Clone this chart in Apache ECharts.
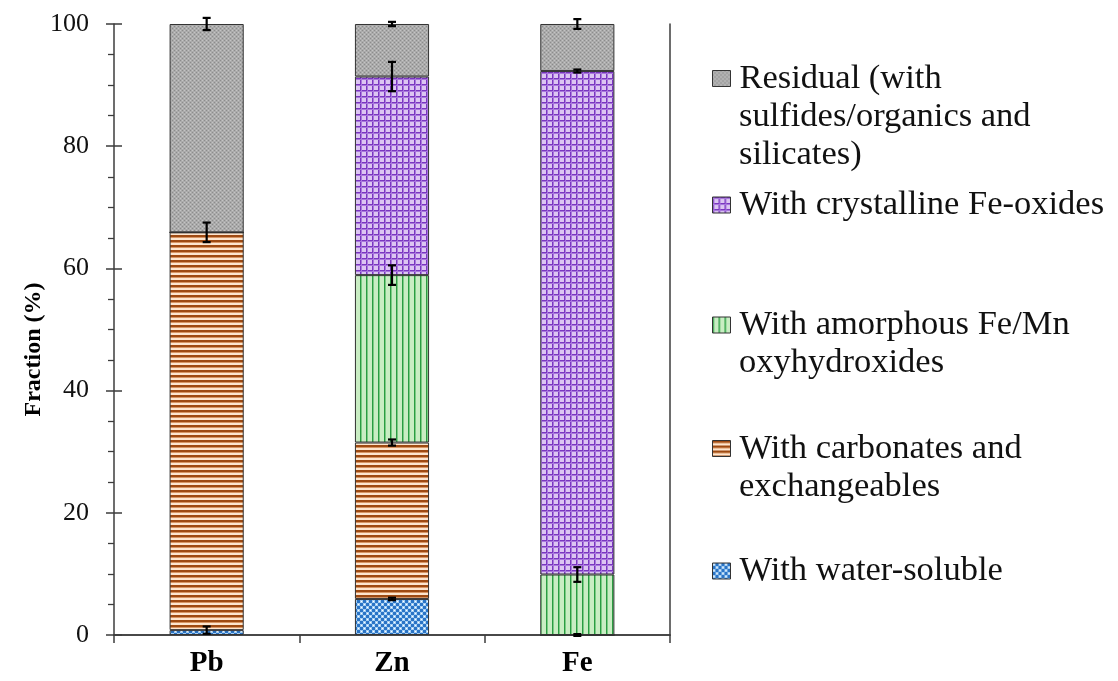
<!DOCTYPE html>
<html>
<head>
<meta charset="utf-8">
<script src="https://cdn.jsdelivr.net/npm/echarts@6/dist/echarts.min.js"></script>
<style>
html,body{margin:0;padding:0;background:#fff;}
#chart{width:1118px;height:681px;}
</style>
</head>
<body>
<div id="chart"></div>
<script>
// ---- data ----
const categories = ['Pb', 'Zn', 'Fe'];
const waterSoluble = [0.8, 5.9, 0];
const carbonates = [65.1, 25.6, 0];
const amorphous = [0, 27.4, 9.9];
const crystalline = [0, 32.5, 82.4];
const residual = [34.1, 8.6, 7.7];
const waterErr = [0.6, 0.2, 0.15];
const carbErr = [1.6, 0.5, 0];
const amorphErr = [0, 1.6, 1.2];
const crystErr = [0, 2.4, 0.25];
const residErr = [1.0, 0.35, 0.8];
const yTicks = [0, 20, 40, 60, 80, 100];
const names = {
  water: 'With water-soluble',
  carb: 'With carbonates and',
  amorph: 'With amorphous Fe/Mn',
  cryst: 'With crystalline Fe-oxides',
  resid: 'Residual (with'
};
const extraLines = {
  resid: ['sulfides/organics and', 'silicates)'],
  amorph: ['oxyhydroxides'],
  carb: ['exchangeables']
};

// ---- patterns ----
function pat(w, h, draw) {
  const c = document.createElement('canvas');
  c.width = w; c.height = h;
  const g = c.getContext('2d');
  draw(g);
  return { image: c, repeat: 'repeat' };
}
const residPat = pat(4, 4, g => {
  g.fillStyle = '#ababab'; g.fillRect(0, 0, 4, 4);
  g.fillStyle = '#8c8c8c'; g.fillRect(0, 0, 1, 1); g.fillRect(2, 2, 1, 1);
  g.fillStyle = '#c4c4c4'; g.fillRect(2, 0, 1, 1); g.fillRect(0, 2, 1, 1);
});
const crystPat = pat(6, 6, g => {
  g.fillStyle = '#dcc5f2'; g.fillRect(0, 0, 6, 6);
  g.fillStyle = '#7a36c0'; g.fillRect(0, 0, 6, 1); g.fillRect(0, 0, 1, 6);
  g.fillStyle = '#a877dc'; g.fillRect(0, 1, 6, 1); g.fillRect(1, 0, 1, 6);
});
const amorphPat = pat(6, 1, g => {
  g.fillStyle = '#c9edc3'; g.fillRect(0, 0, 6, 1);
  g.fillStyle = '#2a9c42'; g.fillRect(0, 0, 1, 1);
  g.fillStyle = '#7ccb84'; g.fillRect(1, 0, 1, 1);
});
const carbPat = pat(1, 5, g => {
  g.fillStyle = '#fde6cf'; g.fillRect(0, 0, 1, 5);
  g.fillStyle = '#9e4a12'; g.fillRect(0, 0, 1, 2);
  g.fillStyle = '#d89563'; g.fillRect(0, 2, 1, 1);
});
const waterPat = pat(6, 6, g => {
  g.fillStyle = '#2a74c6'; g.fillRect(0, 0, 6, 6);
  g.fillStyle = '#a3cdf2'; g.fillRect(0, 0, 3, 3); g.fillRect(3, 3, 3, 3);
  g.fillStyle = '#ffffff'; g.fillRect(1, 1, 1, 1); g.fillRect(4, 4, 1, 1);
});

const FONT = 'Liberation Serif';
const border = { borderColor: '#333333', borderWidth: 1 };

const segs = [
  { key: 'water', data: waterSoluble, err: waterErr, color: waterPat },
  { key: 'carb', data: carbonates, err: carbErr, color: carbPat },
  { key: 'amorph', data: amorphous, err: amorphErr, color: amorphPat },
  { key: 'cryst', data: crystalline, err: crystErr, color: crystPat },
  { key: 'resid', data: residual, err: residErr, color: residPat }
];

// error bar data at cumulative tops
const errData = [];
const cum = categories.map(() => 0);
segs.forEach(s => {
  s.data.forEach((v, i) => {
    cum[i] += v;
    if (s.err[i] > 0) errData.push([i, cum[i], s.err[i]]);
  });
});

const series = segs.map(s => ({
  name: names[s.key],
  type: 'bar',
  stack: 'total',
  barWidth: '40%',
  data: s.data,
  itemStyle: Object.assign({ color: s.color }, border),
  emphasis: { disabled: true }
}));

series.push({
  type: 'custom',
  name: 'err',
  data: errData,
  z: 10,
  renderItem: function (params, api) {
    const x = api.value(0), y = api.value(1), e = api.value(2);
    const hi = api.coord([x, y + e]);
    const lo = api.coord([x, y - e]);
    const cw = 4;
    const st = { stroke: '#000', lineWidth: 2.2 };
    return {
      type: 'group',
      children: [
        { type: 'line', shape: { x1: hi[0], y1: hi[1], x2: lo[0], y2: lo[1] }, style: st },
        { type: 'line', shape: { x1: hi[0] - cw, y1: hi[1], x2: hi[0] + cw, y2: hi[1] }, style: st },
        { type: 'line', shape: { x1: lo[0] - cw, y1: lo[1], x2: lo[0] + cw, y2: lo[1] }, style: st }
      ]
    };
  }
});

// legends, one per entry, top to bottom
const legendCenters = { resid: 78.5, cryst: 205, amorph: 325, carb: 448.5, water: 571 };
const legendOrder = ['resid', 'cryst', 'amorph', 'carb', 'water'];
const ICON_H = 16;
const LEG_FS = 34.5;
const LEG_LH = 37;
const LINE_STEP = 38;
const legends = legendOrder.map(k => ({
  data: [names[k]],
  left: 712,
  top: legendCenters[k] - LEG_LH / 2,
  padding: 0,
  itemWidth: 18,
  itemHeight: ICON_H,
  selectedMode: false,
  icon: 'rect',
  itemStyle: { borderColor: '#333333', borderWidth: 1 },
  textStyle: { fontFamily: FONT, fontSize: LEG_FS, lineHeight: LEG_LH, color: '#111', padding: [0, 0, 0, 4] }
}));

const graphics = [];
Object.keys(extraLines).forEach(k => {
  extraLines[k].forEach((t, j) => {
    graphics.push({
      type: 'text',
      x: 739,
      y: legendCenters[k] + LINE_STEP * (j + 1),
      style: { text: t, fontFamily: FONT, fontSize: LEG_FS, lineHeight: LEG_LH, fill: '#111', verticalAlign: 'middle', align: 'left' }
    });
  });
});

const axisLineStyle = { color: '#3c3c3c', width: 1.5 };

const option = {
  animation: false,
  backgroundColor: '#ffffff',
  grid: { left: 114, right: 448, top: 24, bottom: 46, containLabel: false },
  legend: legends,
  graphic: graphics,
  xAxis: [
    {
      type: 'category',
      data: categories,
      position: 'bottom',
      axisLine: { lineStyle: axisLineStyle },
      axisTick: { show: true, alignWithLabel: false, length: 8, lineStyle: axisLineStyle },
      axisLabel: { fontFamily: FONT, fontSize: 29, fontWeight: 'bold', color: '#000', margin: 14 }
    },
    {
      type: 'category',
      data: categories,
      position: 'top',
      axisLine: { lineStyle: axisLineStyle },
      axisTick: { show: false },
      axisLabel: { show: false }
    }
  ],
  yAxis: [
    {
      type: 'value',
      min: 0, max: 100, interval: 20,
      position: 'left',
      name: 'Fraction (%)',
      nameLocation: 'middle',
      nameGap: 59,
      nameTextStyle: { fontFamily: FONT, fontSize: 24, fontWeight: 'bold', color: '#000', padding: [0, 40, 0, 0] },
      axisLine: { show: true, lineStyle: axisLineStyle },
      axisTick: { show: true, length: 8, lineStyle: axisLineStyle },
      minorTick: { show: true, splitNumber: 4, length: 6, lineStyle: { color: '#3c3c3c', width: 1.3 } },
      splitLine: { show: false },
      axisLabel: {
        fontFamily: FONT, fontSize: 26, color: '#111', margin: 25,
        formatter: v => (yTicks.indexOf(v) >= 0 ? String(v) : '')
      }
    },
    {
      type: 'value',
      min: 0, max: 100, interval: 20,
      position: 'left',
      axisLine: { show: false },
      axisTick: { show: true, inside: true, length: 8, lineStyle: axisLineStyle },
      splitLine: { show: false },
      axisLabel: { show: false }
    },
    {
      type: 'value',
      min: 0, max: 100, interval: 20,
      position: 'right',
      axisLine: { show: true, lineStyle: axisLineStyle },
      axisTick: { show: false },
      splitLine: { show: false },
      axisLabel: { show: false }
    }
  ],
  series: series
};

const chart = echarts.init(document.getElementById('chart'), null, { renderer: 'canvas' });
chart.setOption(option);
</script>
</body>
</html>
